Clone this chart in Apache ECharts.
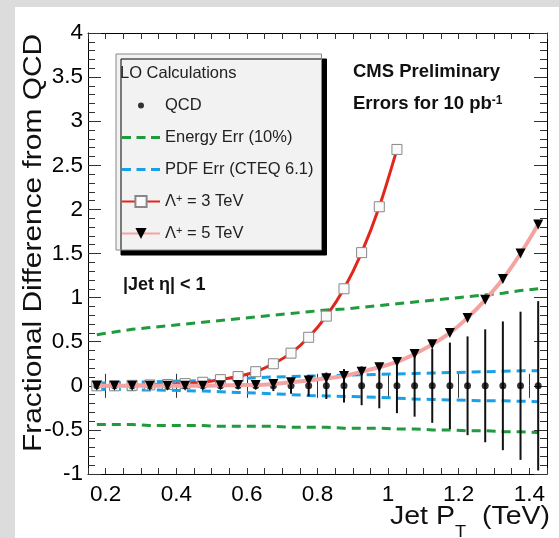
<!DOCTYPE html>
<html><head><meta charset="utf-8">
<script src="https://cdn.jsdelivr.net/npm/echarts@6/dist/echarts.min.js"></script>
<style>html,body{margin:0;padding:0;background:#fff}#c{width:559px;height:538px}</style>
</head><body><div id="c"></div>
<script>
// ---- data ----
const ptX = [0.175,0.225,0.275,0.325,0.375,0.425,0.475,0.525,0.575,0.625,0.675,0.725,0.775,0.825,0.875,0.925,0.975,1.025,1.075,1.125,1.175,1.225,1.275,1.325,1.375,1.425];
const qcdValues = [0,0,0,0,0,0,0,0,0,0,0,0,0,0,0,0,0,0,0,0,0,0,0,0,0,0];
const qcdErr = [0.005,0.006,0.007,0.008,0.01,0.012,0.015,0.02,0.03,0.04,0.06,0.09,0.12,0.15,0.19,0.22,0.255,0.31,0.35,0.42,0.49,0.56,0.64,0.73,0.84,0.96];
const energyUp = [0.58,0.61,0.64,0.66,0.68,0.70,0.72,0.74,0.76,0.78,0.80,0.82,0.84,0.86,0.87,0.89,0.91,0.93,0.95,0.97,0.99,1.01,1.03,1.05,1.08,1.10];
const energyDown = [-0.44,-0.44,-0.44,-0.45,-0.45,-0.45,-0.45,-0.46,-0.46,-0.46,-0.46,-0.47,-0.47,-0.47,-0.48,-0.48,-0.48,-0.49,-0.49,-0.50,-0.50,-0.51,-0.51,-0.52,-0.52,-0.53];
const pdfUp = [0.03,0.035,0.04,0.045,0.05,0.055,0.06,0.07,0.08,0.09,0.10,0.105,0.11,0.115,0.12,0.125,0.13,0.135,0.14,0.145,0.15,0.155,0.16,0.165,0.17,0.17];
const pdfDown = [-0.04,-0.042,-0.045,-0.048,-0.05,-0.055,-0.06,-0.067,-0.075,-0.082,-0.09,-0.10,-0.11,-0.115,-0.12,-0.125,-0.13,-0.14,-0.15,-0.155,-0.16,-0.165,-0.17,-0.17,-0.175,-0.18];
const lambda3 = [0.0,0.0,0.005,0.01,0.015,0.025,0.04,0.07,0.105,0.16,0.25,0.37,0.55,0.79,1.10,1.51,2.03,2.68];
const lambda5 = [0,0,0,0,0,0,0,0.005,0.01,0.01,0.02,0.04,0.06,0.085,0.11,0.16,0.21,0.27,0.36,0.47,0.60,0.77,0.975,1.21,1.50,1.83];
const xTickLabels = [0.2,0.4,0.6,0.8,1,1.2,1.4];
const names = {qcd:'QCD', energy:'Energy Err (10%)', pdf:'PDF Err (CTEQ 6.1)', l3:'Λ+ = 3 TeV', l5:'Λ+ = 5 TeV'};

// ---- styles ----
const FONT = 'Liberation Sans';
const GREEN = '#1f9a3c', BLUE = '#1aa0e6', RED = '#e3261c', PINK = '#f4a3a3';
const TICK = '#333';
const pairs = (ys) => ys.map((v, i) => [ptX[i], v]);

const dotIcon = 'path://M0,0 M38,14 M16,7 A3,3,0,1,1,22,7 A3,3,0,1,1,16,7 Z';
const dashIcon = 'path://M0,0 M38,14 M0,5.5 L9,5.5 L9,8.5 L0,8.5 Z M14.5,5.5 L23.5,5.5 L23.5,8.5 L14.5,8.5 Z M29,5.5 L38,5.5 L38,8.5 L29,8.5 Z';

const xBase = {type:'value', min:0.15, max:1.45, splitLine:{show:false},
  axisLine:{show:true, onZero:false, lineStyle:{color:'#000', width:1}}};
const yBase = {type:'value', min:-1, max:4, interval:0.5, splitLine:{show:false},
  axisLine:{show:true, onZero:false, lineStyle:{color:'#000', width:1}},
  axisTick:{inside:true, length:13, lineStyle:{color:TICK}},
  minorTick:{show:true, splitNumber:5, length:7, lineStyle:{color:TICK}}};

const chart = echarts.init(document.getElementById('c'), null, {renderer:'canvas'});
chart.setOption({
  backgroundColor:'#dcdcdc',
  animation:false,
  grid:{left:88, top:33, right:12, bottom:64, containLabel:false},
  xAxis:[
    Object.assign({}, xBase, {position:'bottom', interval:0.05,
      axisTick:{inside:true, length:6, lineStyle:{color:TICK}}, axisLabel:{show:false}}),
    Object.assign({}, xBase, {position:'bottom', axisLine:{show:false},
      axisTick:{inside:true, length:12, customValues:xTickLabels, lineStyle:{color:TICK}},
      axisLabel:{customValues:xTickLabels, fontSize:22.5, color:'#000', margin:9, fontFamily:FONT}}),
    Object.assign({}, xBase, {position:'top', interval:0.05,
      axisTick:{inside:true, length:6, lineStyle:{color:TICK}}, axisLabel:{show:false}}),
    Object.assign({}, xBase, {position:'top', axisLine:{show:false},
      axisTick:{inside:true, length:12, customValues:xTickLabels, lineStyle:{color:TICK}}, axisLabel:{show:false}})
  ],
  yAxis:[
    Object.assign({}, yBase, {position:'left', axisLabel:{fontSize:22.5, color:'#000', margin:5, fontFamily:FONT}}),
    Object.assign({}, yBase, {position:'right', axisLabel:{show:false}})
  ],
  legend:{
    orient:'vertical', left:116, top:54, padding:[43,8,8,5],
    itemWidth:38, itemHeight:14, itemGap:15, selectedMode:false,
    backgroundColor:'#f2f2f2', borderColor:'#888', borderWidth:1,
    shadowColor:'#000', shadowBlur:0, shadowOffsetX:5, shadowOffsetY:5,
    textStyle:{fontSize:16.5, color:'#222', fontFamily:FONT,
      rich:{t:{fontSize:16.5, color:'#222', fontFamily:FONT}, s:{fontSize:11, color:'#222', fontFamily:FONT, verticalAlign:'top'}}},
    formatter:(n) => n.startsWith('Λ+') ? '{t|Λ}{s|+}{t|' + n.slice(2) + '}' : n,
    data:[
      {name:names.qcd, icon:dotIcon},
      {name:names.energy, icon:dashIcon},
      {name:names.pdf, icon:dashIcon},
      names.l3, names.l5
    ]
  },
  graphic:[
    {type:'rect', z:-10, shape:{x:15, y:7, width:544, height:531}, style:{fill:'#fff'}},
    {type:'text', z:100, x:120, y:73, style:{text:'LO Calculations', fontSize:16.5, fontFamily:FONT, fill:'#222', verticalAlign:'middle'}},
    {type:'text', z:100, x:353, y:72, style:{text:'CMS Preliminary', fontSize:18.5, fontWeight:'bold', fontFamily:FONT, fill:'#111', verticalAlign:'middle'}},
    {type:'text', z:100, x:353, y:104, style:{text:'{a|Errors for 10 pb}{s|-1}', verticalAlign:'middle', fill:'#111',
      rich:{a:{fontSize:18.5, fontWeight:'bold', fontFamily:FONT, fill:'#111'}, s:{fontSize:12, fontWeight:'bold', fontFamily:FONT, fill:'#111', verticalAlign:'top'}}}},
    {type:'text', z:100, x:123, y:285, style:{text:'|Jet η| < 1', fontSize:18, fontWeight:'bold', fontFamily:FONT, fill:'#111', verticalAlign:'middle'}},
    {type:'text', z:100, x:34, y:243, rotation:Math.PI/2, scaleX:1.15,
      style:{text:'Fractional Difference from QCD', fontSize:26, fontFamily:FONT, fill:'#111', align:'center', verticalAlign:'middle'}},
    {type:'text', z:100, x:550, y:505, scaleX:1.14,
      style:{text:'{a|Jet P}{b|T}{a|  (TeV)}', align:'right', verticalAlign:'top', fill:'#111',
        rich:{a:{fontSize:25, fontFamily:FONT, fill:'#111', lineHeight:28, verticalAlign:'top'},
              b:{fontSize:16, fontFamily:FONT, fill:'#111', lineHeight:16, padding:[20,0,0,0], verticalAlign:'top'}}}}
  ],
  series:[
    {name:names.energy, type:'line', data:pairs(energyUp), showSymbol:false, symbol:'none', z:2,
      itemStyle:{color:GREEN}, lineStyle:{color:GREEN, width:3, type:[9,6]}},
    {name:names.energy, type:'line', data:pairs(energyDown), showSymbol:false, symbol:'none', z:2,
      itemStyle:{color:GREEN}, lineStyle:{color:GREEN, width:3, type:[9,6]}},
    {name:names.pdf, type:'line', data:pairs(pdfUp), showSymbol:false, symbol:'none', z:3,
      itemStyle:{color:BLUE}, lineStyle:{color:BLUE, width:3, type:[9,6]}},
    {name:names.pdf, type:'line', data:pairs(pdfDown), showSymbol:false, symbol:'none', z:3,
      itemStyle:{color:BLUE}, lineStyle:{color:BLUE, width:3, type:[9,6]}},
    {name:names.l3, type:'line', data:pairs(lambda3), smooth:0.3, symbol:'rect', symbolSize:10, z:4,
      itemStyle:{color:'#fafafa', borderColor:'#888', borderWidth:1}, lineStyle:{color:RED, width:3}},
    {name:'qcdErrBars', type:'custom', z:5,
      data:ptX.map((x, i) => [x, qcdValues[i] - qcdErr[i], qcdValues[i] + qcdErr[i]]),
      renderItem:(params, api) => {
        const a = api.coord([api.value(0), api.value(1)]);
        const b = api.coord([api.value(0), api.value(2)]);
        return {type:'line', shape:{x1:a[0], y1:a[1], x2:b[0], y2:b[1]}, style:{stroke:'#111', lineWidth:2}};
      }},
    {name:names.qcd, type:'scatter', data:pairs(qcdValues), symbol:'circle', symbolSize:7, z:6,
      itemStyle:{color:'#000'}},
    {name:names.l5, type:'line', data:pairs(lambda5), smooth:0.3, symbol:'path://M0,0 L10,0 L5,9 Z', symbolSize:10, z:7,
      itemStyle:{color:'#000'}, lineStyle:{color:PINK, width:4}}
  ]
});
</script></body></html>
